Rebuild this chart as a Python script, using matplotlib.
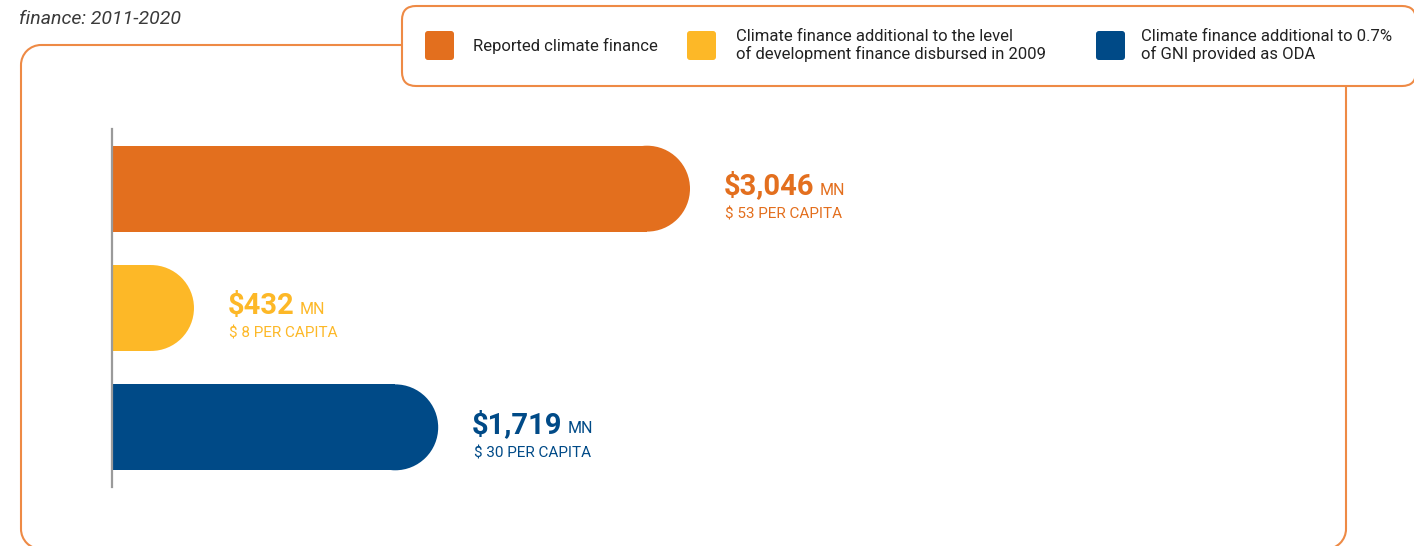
import matplotlib
matplotlib.use("Agg")
import matplotlib.pyplot as plt
from matplotlib.patches import FancyBboxPatch, Ellipse, Arc

plt.rcParams["font.family"] = ["Roboto", "DejaVu Sans"]

# ----------------------------
# Dados
# ----------------------------
series = [
    "Reported climate finance",
    "Climate finance additional to the level\nof development finance disbursed in 2009",
    "Climate finance additional to 0.7%\nof GNI provided as ODA",
]
values_mn = [3046, 432, 1719]
per_capita = [53, 8, 30]
colors = ["#E36F1E", "#FDB827", "#004A87"]

title = "finance: 2011-2020"

W, H = 1414, 546
fig = plt.figure(figsize=(W / 100, H / 100), dpi=100)

# fundo em coordenadas de pixel (molduras, legenda)
bg = fig.add_axes([0, 0, 1, 1])
bg.set_xlim(0, W)
bg.set_ylim(H, 0)
bg.axis("off")

frame_col = "#EE8A45"
# moldura externa (a base fica fora da figura, então só lados e cantos)
r = 20
L, T, R, B = 21, 45, 1346, 549
lw = 1.5
bg.plot([L + r, R - r], [T, T], color=frame_col, lw=lw, solid_capstyle="butt")
bg.plot([L, L], [T + r, B - r], color=frame_col, lw=lw, solid_capstyle="butt")
bg.plot([R, R], [T + r, B - r], color=frame_col, lw=lw, solid_capstyle="butt")
for cx, cy, t1, t2 in [(L + r, T + r, 180, 270), (R - r, T + r, 270, 360),
                       (L + r, B - r, 90, 180), (R - r, B - r, 0, 90)]:
    bg.add_patch(Arc((cx, cy), 2 * r, 2 * r, theta1=t1, theta2=t2,
                     color=frame_col, lw=lw))

bg.add_patch(FancyBboxPatch((402, 6), 1014, 80,
                            boxstyle="round,pad=0,rounding_size=14",
                            fc="white", ec=frame_col, lw=1.5, clip_on=False,
                            zorder=3))

bg.text(19, 24, title, fontsize=14, style="italic", color="#3a3a3a",
        va="baseline", ha="left")

# legenda manual
leg_x = [425, 687, 1096]
txt_x = [473, 736, 1141]
for lx, tx, lab, c in zip(leg_x, txt_x, series, colors):
    bg.add_patch(FancyBboxPatch((lx, 31), 29, 29,
                                boxstyle="round,pad=0,rounding_size=3",
                                fc=c, ec="none", zorder=4))
    bg.text(tx, 45.5, lab, fontsize=12, color="#222222", va="center",
            ha="left", linespacing=1.12, zorder=5)

# ----------------------------
# Barras
# ----------------------------
left_px, right_px, top_px, bot_px = 112, 1346, 129, 487
ax = fig.add_axes([left_px / W, 1 - bot_px / H,
                   (right_px - left_px) / W, (bot_px - top_px) / H])
ax.set_facecolor("none")
px_per_unit = 578 / 3046
ax.set_xlim(0, (right_px - left_px) / px_per_unit)
ax.set_ylim(2.5, -0.5)
for s in ["top", "right", "bottom"]:
    ax.spines[s].set_visible(False)
ax.spines["left"].set_color("#9a9a9a")
ax.spines["left"].set_linewidth(1.6)
ax.set_xticks([])
ax.set_yticks([])

bar_h = 0.72
p0 = ax.transData.transform((0, 0))
p1 = ax.transData.transform((1, 1))
ppx = abs(p1[0] - p0[0])
ppy = abs(p1[1] - p0[1])
rx = (bar_h / 2) * ppy / ppx  # raio da ponta arredondada em unidades x

for i, (v, pc, c) in enumerate(zip(values_mn, per_capita, colors)):
    ax.barh(i, v - rx, height=bar_h, color=c, left=0, zorder=2)
    ax.add_patch(Ellipse((v - rx, i), 2 * rx, bar_h, fc=c, ec="none", zorder=2))

    big = ax.annotate(r"\$" + f"{v:,}", xy=(v, i), xytext=(24, -4.2),
                      textcoords="offset points", fontsize=21,
                      fontweight="bold", color=c, va="baseline", ha="left")
    ax.annotate("MN", xy=(1, i), xycoords=(big, "data"), xytext=(4, -4.2),
                textcoords="offset points", fontsize=11.5, color=c,
                va="baseline", ha="left")
    ax.annotate(r"\$ " + f"{pc} PER CAPITA", xy=(v, i), xytext=(25.5, -21.5),
                textcoords="offset points", fontsize=11, color=c,
                va="baseline", ha="left")

fig.savefig("out.png", dpi=100)
